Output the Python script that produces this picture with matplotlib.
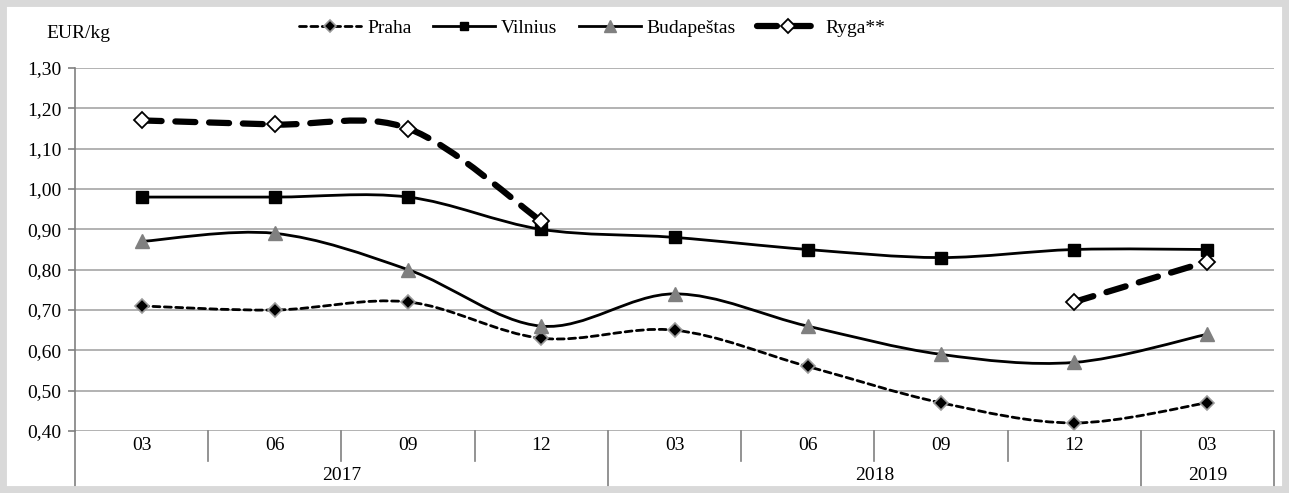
import matplotlib
matplotlib.use("Agg")
import matplotlib.pyplot as plt
import numpy as np
from matplotlib.path import Path
from matplotlib.patches import PathPatch, Rectangle
from matplotlib.lines import Line2D
from matplotlib.ticker import FuncFormatter, MultipleLocator

plt.rcParams["font.family"] = "serif"
plt.rcParams["font.serif"] = ["Liberation Serif", "DejaVu Serif"]

months = ["03", "06", "09", "12", "03", "06", "09", "12", "03"]
years = ["2017", "2018", "2019"]
year_spans = [4, 4, 1]

praha = [0.71, 0.70, 0.72, 0.63, 0.65, 0.56, 0.47, 0.42, 0.47]
vilnius = [0.98, 0.98, 0.98, 0.90, 0.88, 0.85, 0.83, 0.85, 0.85]
budapestas = [0.87, 0.89, 0.80, 0.66, 0.74, 0.66, 0.59, 0.57, 0.64]
ryga = [1.17, 1.16, 1.15, 0.92, np.nan, np.nan, np.nan, 0.72, 0.82]

GRID = "#a6a6a6"
AX = "#808080"
FS = 14


def smooth_path(xs, ys):
    # Excel-style smoothed line as cubic Bezier segments (Catmull-Rom controls)
    verts, codes = [], []
    xs = np.asarray(xs, float)
    ys = np.asarray(ys, float)
    ok = ~np.isnan(ys)
    i = 0
    n = len(xs)
    while i < n:
        if not ok[i]:
            i += 1
            continue
        j = i
        while j < n and ok[j]:
            j += 1
        p = np.column_stack([xs[i:j], ys[i:j]])
        m = len(p)
        verts.append(p[0]); codes.append(Path.MOVETO)
        for k in range(m - 1):
            prev = p[k - 1] if k > 0 else p[k]
            nxt = p[k + 2] if k + 2 < m else p[k + 1]
            c1 = p[k] + (p[k + 1] - prev) / 6
            c2 = p[k + 1] - (nxt - p[k]) / 6
            verts += [c1, c2, p[k + 1]]
            codes += [Path.CURVE4] * 3
        i = j
    return Path(verts, codes)


fig = plt.figure(figsize=(12.89, 4.93), dpi=100)
ax = fig.add_axes([75 / 1289, 62 / 493, 1199 / 1289, 363 / 493])
x = np.arange(len(months))

series = [
    ("Praha", praha, dict(color="black", lw=2.0, ls=(0, (2.5, 1.6))),
     dict(marker="D", ms=7.5, mfc="black", mec="#9a9a9a", mew=1.2)),
    ("Vilnius", vilnius, dict(color="black", lw=2.0, ls="-"),
     dict(marker="s", ms=8, mfc="black", mec="black", mew=1)),
    ("Budapeštas", budapestas, dict(color="black", lw=2.0, ls="-"),
     dict(marker="^", ms=10, mfc="#808080", mec="#808080", mew=1)),
    ("Ryga**", ryga, dict(color="black", lw=4.5, ls=(0, (3.2, 2.2))),
     dict(marker="D", ms=8.5, mfc="white", mec="black", mew=1.3)),
]

handles = []
for z, (name, vals, lst, mk) in enumerate(series):
    patch = PathPatch(smooth_path(x, vals), fill=False, edgecolor=lst["color"],
                      lw=lst["lw"], linestyle=lst["ls"], capstyle="round",
                      zorder=3 + z)
    ax.add_patch(patch)
    ax.plot(x, vals, ls="none", zorder=10 + z, clip_on=False, **mk)
    handles.append(Line2D([], [], color=lst["color"], lw=lst["lw"],
                          ls=lst["ls"], dash_capstyle="round", **mk))

ax.set_xlim(-0.5, len(months) - 0.5)
ax.set_ylim(0.40, 1.30)
ax.yaxis.set_major_locator(MultipleLocator(0.10))
ax.yaxis.set_major_formatter(FuncFormatter(lambda v, _: f"{v:.2f}".replace(".", ",")))
ax.grid(axis="y", color=GRID, lw=1.2)
ax.set_axisbelow(True)
for s in ("top", "right", "bottom"):
    ax.spines[s].set_visible(False)
ax.spines["left"].set_color(AX)
ax.spines["left"].set_linewidth(1.2)
ax.tick_params(axis="y", length=5, color=AX, width=1.2, labelsize=FS, pad=5)
ax.set_xticks([])

# multi-level category axis
tr = ax.get_xaxis_transform()
short, long_ = -30 / 363, -57 / 363
ax.plot([-0.5, -0.5], [0, long_], color=AX, lw=1.2, transform=tr, clip_on=False)
ax.plot([len(months) - 0.5] * 2, [0, long_], color=AX, lw=1.2, transform=tr, clip_on=False)
for i, m in enumerate(months):
    ax.text(i, -15 / 363, m, transform=tr, ha="center", va="center", fontsize=FS)
bounds = np.cumsum(year_spans)[:-1]
for b in range(1, len(months)):
    low = long_ if b in bounds else short
    ax.plot([b - 0.5, b - 0.5], [0, low], color=AX, lw=1.2, transform=tr, clip_on=False)
start = 0
for yr, span in zip(years, year_spans):
    ax.text(start + (span - 1) / 2, -44 / 363, yr, transform=tr, ha="center",
            va="center", fontsize=FS)
    start += span

fig.text(46 / 1289, 1 - 33 / 493, "EUR/kg", fontsize=FS, ha="left", va="center")
fig.legend(handles, [s[0] for s in series], loc="center", ncol=4,
           bbox_to_anchor=(592 / 1289, 1 - 28 / 493), frameon=False, fontsize=FS,
           handlelength=3.2, columnspacing=1.1, handletextpad=0.3, numpoints=1,
           markerscale=0.8)

fig.add_artist(Rectangle((0, 0), 1, 1, transform=fig.transFigure, fill=False,
                         edgecolor="#d9d9d9", lw=10))

fig.savefig("out.png", dpi=100)
